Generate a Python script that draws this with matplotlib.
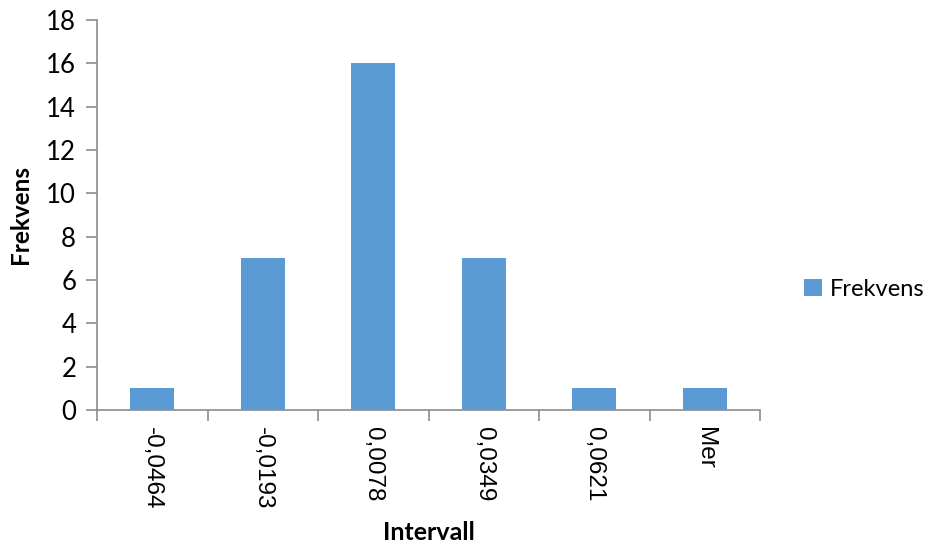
import matplotlib.pyplot as plt
import numpy as np

intervals = ["-0,0464", "-0,0193", "0,0078", "0,0349", "0,0621", "Mer"]
counts = [1, 7, 16, 7, 1, 1]
y_ticks = [0, 2, 4, 6, 8, 10, 12, 14, 16, 18]

bar_color = "#5B9BD5"
axis_color = "#8C8C8C"

fig = plt.figure(figsize=(9.27, 5.54), dpi=100)
ax = fig.add_axes([97 / 927, 1 - 410 / 554, 663 / 927, 390 / 554])

x = np.arange(len(intervals))
ax.bar(x, counts, width=0.4, color=bar_color, label="Frekvens", zorder=2)

ax.set_xlim(-0.5, len(intervals) - 0.5)
ax.set_ylim(0, 18)
ax.set_yticks(y_ticks)
ax.set_yticklabels([str(v) for v in y_ticks], family="Lato", fontsize=18.5)

ax.set_xticks(x)
ax.set_xticklabels(intervals, rotation=-90, family="Liberation Sans", fontsize=17.5)
ax.tick_params(axis="x", which="major", length=0, pad=12)
ax.set_xticks(np.arange(-0.5, len(intervals)), minor=True)
ax.tick_params(axis="x", which="minor", length=8, color=axis_color, width=1.2)
ax.tick_params(axis="y", length=8, color=axis_color, width=1.2, pad=7)

for side in ["top", "right"]:
    ax.spines[side].set_visible(False)
for side in ["left", "bottom"]:
    ax.spines[side].set_color(axis_color)
    ax.spines[side].set_linewidth(1.2)

ax.set_ylabel("Frekvens", family="Lato", fontsize=17.5, fontweight="bold", labelpad=10)
fig.text(429 / 927, 1 - 533 / 554, "Intervall", family="Lato", fontsize=18,
         fontweight="bold", ha="center", va="center")

ax.legend(loc="center left", bbox_to_anchor=(1.034, 0.31), frameon=False,
          prop={"family": "Lato", "size": 17}, handlelength=0.75, handleheight=0.75,
          handletextpad=0.35)

fig.savefig("out.png", dpi=100)
